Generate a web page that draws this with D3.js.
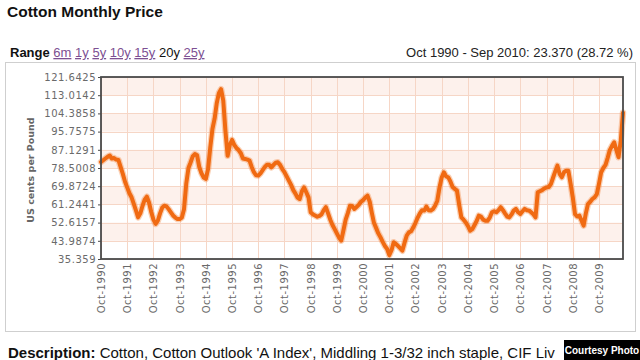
<!DOCTYPE html>
<html>
<head>
<meta charset="utf-8">
<script src="https://cdn.jsdelivr.net/npm/d3@7"></script>
<style>
  html, body { margin: 0; padding: 0; background: #fff; }
  svg { display: block; }
</style>
</head>
<body>
<svg id="chart" width="640" height="360"></svg>
<script>
// ---------------- data ----------------
const title = "Cotton Monthly Price";
const rangeLinks = ["6m", "1y", "5y", "10y", "15y", "20y", "25y"];
const activeRange = "20y";
const summaryText = "Oct 1990 - Sep 2010: 23.370 (28.72 %)";
const yAxisTitle = "US cents per Pound";
const yTickLabels = ["35.359", "43.9874", "52.6157", "61.2441", "69.8724", "78.5008",
                     "87.1291", "95.7575", "104.3858", "113.0142", "121.6425"];
const xTickLabels = ["Oct-1990", "Oct-1991", "Oct-1992", "Oct-1993", "Oct-1994", "Oct-1995",
                     "Oct-1996", "Oct-1997", "Oct-1998", "Oct-1999", "Oct-2000", "Oct-2001",
                     "Oct-2002", "Oct-2003", "Oct-2004", "Oct-2005", "Oct-2006", "Oct-2007",
                     "Oct-2008", "Oct-2009"];
const firstMonth = "1990-10";
const lastMonth = "2010-09";
// monthly price, US cents per pound, Oct 1990 .. Sep 2010
const prices = [
  // Oct 1990 - Sep 1991
  81.37, 82.2, 83.0, 83.8, 84.4, 83.0, 83.2, 82.5, 82.3, 79.0, 75.7, 72.0,
  // Oct 1991 - Sep 1992
  69.3, 66.5, 64.6, 61.5, 58.3, 55.1, 57.0, 60.5, 63.5, 64.9, 62.0, 57.5,
  // Oct 1992 - Sep 1993
  54.0, 52.0, 53.5, 57.0, 59.8, 60.6, 60.3, 59.0, 57.5, 56.0, 55.0, 54.3,
  // Oct 1993 - Sep 1994
  54.3, 55.0, 59.0, 71.0, 78.5, 81.0, 84.0, 85.1, 84.5, 79.0, 76.0, 74.0,
  // Oct 1994 - Sep 1995
  73.3, 78.0, 88.0, 97.0, 102.0, 109.0, 114.0, 115.85, 110.4, 96.2, 84.3, 89.5,
  // Oct 1995 - Sep 1996
  91.8, 89.5, 88.0, 87.0, 85.5, 83.0, 82.8, 82.5, 82.0, 79.0, 76.5, 75.0,
  // Oct 1996 - Sep 1997
  74.9, 76.0, 77.5, 79.0, 80.1, 80.0, 78.8, 80.0, 81.0, 81.2, 80.0, 78.0,
  // Oct 1997 - Sep 1998
  76.5, 74.5, 72.5, 70.5, 68.0, 66.5, 64.5, 63.8, 67.5, 69.3, 67.0, 64.6,
  // Oct 1998 - Sep 1999
  57.5, 56.5, 56.0, 55.4, 55.8, 56.5, 58.5, 59.9, 57.0, 54.0, 51.5, 49.5,
  // Oct 1999 - Sep 2000
  47.5, 45.5, 44.05, 49.0, 54.0, 57.0, 60.6, 60.5, 59.1, 60.0, 61.0, 62.5,
  // Oct 2000 - Sep 2001
  63.3, 64.5, 65.4, 62.5, 57.0, 52.5, 50.0, 47.5, 45.6, 43.5, 41.5, 40.1,
  // Oct 2001 - Sep 2002
  37.22, 39.5, 43.3, 42.5, 41.5, 40.5, 39.3, 43.0, 46.5, 48.0, 48.5, 50.4,
  // Oct 2002 - Sep 2003
  52.5, 55.0, 57.0, 58.5, 58.3, 60.2, 58.5, 58.3, 59.0, 60.6, 63.0, 69.3,
  // Oct 2003 - Sep 2004
  74.0, 76.5, 74.5, 74.1, 72.0, 69.5, 68.6, 67.8, 61.0, 55.1, 54.0, 52.7,
  // Oct 2004 - Sep 2005
  51.0, 48.8, 49.5, 51.5, 53.5, 55.9, 55.5, 54.0, 53.5, 53.5, 55.0, 57.5,
  // Oct 2005 - Sep 2006
  58.0, 57.5, 58.5, 59.9, 58.5, 57.0, 55.5, 55.1, 56.5, 58.3, 59.1, 57.5,
  // Oct 2006 - Sep 2007
  56.7, 58.0, 59.1, 58.5, 58.3, 57.5, 56.5, 55.1, 67.0, 67.5, 68.0, 68.8,
  // Oct 2007 - Sep 2008
  69.3, 69.5, 70.9, 74.0, 77.0, 79.6, 75.7, 74.1, 76.5, 77.2, 77.2, 71.0,
  // Oct 2008 - Sep 2009
  64.6, 56.7, 55.5, 55.9, 53.5, 51.2, 57.0, 61.4, 62.5, 63.8, 64.6, 66.1,
  // Oct 2009 - Sep 2010
  71.0, 76.5, 78.5, 80.0, 83.5, 87.0, 89.0, 90.7, 87.0, 83.6, 91.5, 104.74
];
const descriptionLabel = "Description:";
const descriptionText = "Cotton, Cotton Outlook 'A Index', Middling 1-3/32 inch staple, CIF Liv";
const creditText = "Courtesy Photo";

// ---------------- chart ----------------
const svg = d3.select("#chart");
const parseMonth = d3.timeParse("%Y-%m");
const start = parseMonth(firstMonth);
const end = parseMonth(lastMonth);
const series = prices.map((v, i) => ({ date: d3.timeMonth.offset(start, i), value: v }));
const xTickDates = xTickLabels.map(s => d3.timeParse("%b-%Y")(s));
const yTickValues = yTickLabels.map(Number);

const plot = { left: 101, right: 623, top: 77, bottom: 259 };
const x = d3.scaleTime().domain([start, end]).range([plot.left, plot.right]);
const y = d3.scaleLinear().domain([yTickValues[0], yTickValues[yTickValues.length - 1]])
            .range([plot.bottom, plot.top]);

const sans = "'Liberation Sans', Arial, sans-serif";
const dv = "'DejaVu Sans', Verdana, sans-serif";

// outer frame
svg.append("rect").attr("x", 5.5).attr("y", 62.5).attr("width", 630).attr("height", 269)
  .attr("fill", "none").attr("stroke", "#cfcfcf").attr("stroke-width", 1);

// title
svg.append("text").attr("x", 7).attr("y", 17).attr("font-family", sans)
  .attr("font-size", 15.5).attr("font-weight", "bold").attr("fill", "#111").text(title);

// range line
const rt = svg.append("text").attr("x", 10).attr("y", 57).attr("font-family", sans)
  .attr("font-size", 13).attr("fill", "#111");
rt.append("tspan").attr("font-weight", "bold").text("Range");
rangeLinks.forEach(r => {
  rt.append("tspan").text(" ");
  const t = rt.append("tspan").text(r);
  if (r !== activeRange) t.attr("fill", "#7d4f92").attr("text-decoration", "underline");
});

svg.append("text").attr("x", 633).attr("y", 57).attr("text-anchor", "end")
  .attr("font-family", sans).attr("font-size", 13).attr("fill", "#222").text(summaryText);

// bands
const bandG = svg.append("g");
for (let i = 0; i < yTickValues.length - 1; i++) {
  if (i % 2 === 0) {
    const hi = yTickValues[yTickValues.length - 1 - i];
    const lo = yTickValues[yTickValues.length - 2 - i];
    bandG.append("rect").attr("x", plot.left).attr("width", plot.right - plot.left)
      .attr("y", y(hi)).attr("height", y(lo) - y(hi)).attr("fill", "#fdf1ec");
  }
}
// grid
const gridG = svg.append("g").attr("stroke", "#f6d6c6").attr("stroke-width", 1);
yTickValues.forEach(v => gridG.append("line")
  .attr("x1", plot.left).attr("x2", plot.right)
  .attr("y1", Math.round(y(v)) + 0.5).attr("y2", Math.round(y(v)) + 0.5));
xTickDates.forEach(d => gridG.append("line")
  .attr("x1", Math.round(x(d)) + 0.5).attr("x2", Math.round(x(d)) + 0.5)
  .attr("y1", plot.top).attr("y2", plot.bottom));

// line
const line = d3.line().x(d => x(d.date)).y(d => y(d.value)).curve(d3.curveLinear);
svg.append("path").datum(series).attr("d", line).attr("fill", "none")
  .attr("stroke", "#f27a2e").attr("stroke-opacity", 0.35).attr("stroke-width", 6.5)
  .attr("stroke-linejoin", "round").attr("stroke-linecap", "round");
svg.append("path").datum(series).attr("d", line).attr("fill", "none")
  .attr("stroke", "#f06a12").attr("stroke-width", 4)
  .attr("stroke-linejoin", "round").attr("stroke-linecap", "round");

// border
svg.append("rect").attr("x", plot.left).attr("y", plot.top)
  .attr("width", plot.right - plot.left).attr("height", plot.bottom - plot.top)
  .attr("fill", "none").attr("stroke", "#4a4a4a").attr("stroke-width", 1.8);

// y axis
const yAxis = d3.axisLeft(y).tickValues(yTickValues)
  .tickFormat((d, i) => yTickLabels[i]).tickSize(3).tickPadding(2);
const yg = svg.append("g").attr("transform", `translate(${plot.left},0)`).call(yAxis);
yg.select(".domain").remove();
yg.selectAll(".tick line").attr("stroke", "#4a4a4a");
yg.selectAll(".tick text").attr("font-family", dv).attr("font-size", 10)
  .attr("letter-spacing", 0.5).attr("fill", "#6a6a6a");

// x axis
const xAxis = d3.axisBottom(x).tickValues(xTickDates)
  .tickFormat((d, i) => xTickLabels[i]).tickSize(0);
const xg = svg.append("g").attr("transform", `translate(0,${plot.bottom})`).call(xAxis);
xg.select(".domain").remove();
xg.selectAll(".tick text").attr("font-family", dv).attr("font-size", 10)
  .attr("letter-spacing", 0.5).attr("fill", "#6a6a6a")
  .attr("transform", "rotate(-90)").attr("text-anchor", "end")
  .attr("x", -4).attr("y", 0).attr("dy", "0.35em");

// y axis title
svg.append("text").attr("transform", "translate(34,170) rotate(-90)")
  .attr("text-anchor", "middle").attr("font-family", dv).attr("font-size", 9.5)
  .attr("font-weight", "bold").attr("fill", "#666").text(yAxisTitle);

// description
const dt = svg.append("text").attr("x", 8).attr("y", 358).attr("font-family", sans)
  .attr("font-size", 15).attr("fill", "#111");
dt.append("tspan").attr("font-weight", "bold").text(descriptionLabel);
dt.append("tspan").text(" " + descriptionText);
// keep it clear of the credit box
const maxW = 554;
let fs = 15;
while (dt.node().getComputedTextLength() > maxW && fs > 10) { fs -= 0.25; dt.attr("font-size", fs); }

// credit box
svg.append("rect").attr("x", 564).attr("y", 340).attr("width", 76).attr("height", 20).attr("fill", "#000");
svg.append("text").attr("x", 602).attr("y", 354).attr("text-anchor", "middle")
  .attr("font-family", sans).attr("font-size", 10).attr("font-weight", "bold")
  .attr("fill", "#fff").text(creditText);
</script>
</body>
</html>
